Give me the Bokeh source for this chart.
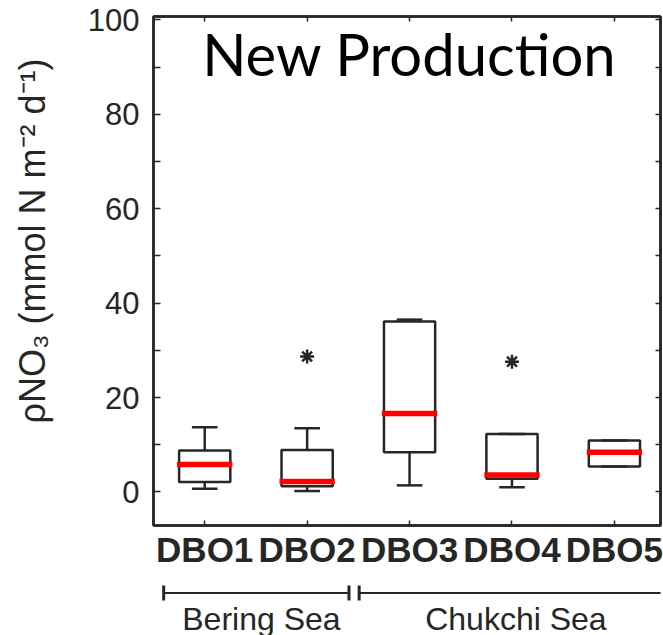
from bokeh.plotting import figure
from bokeh.models import Range1d, FixedTicker, LinearAxis, Label
from bokeh.layouts import column
from bokeh.embed import file_html
from bokeh.resources import INLINE
from bokeh.core.properties import value

# ---------------- data ----------------
stations = ["DBO1", "DBO2", "DBO3", "DBO4", "DBO5"]
q1 = [2.1, 1.2, 8.4, 2.8, 5.4]
q3 = [8.8, 8.9, 36.1, 12.3, 10.9]
medians = [5.8, 2.2, 16.6, 3.6, 8.4]
whisker_low = [0.7, 0.2, 1.4, 1.0, 5.4]
whisker_high = [13.7, 13.5, 36.5, 12.3, 10.9]
outlier_station = ["DBO2", "DBO4"]
outlier_values = [28.7, 27.6]
y_ticks = [0, 20, 40, 60, 80, 100]
y_minor_ticks = [10, 30, 50, 70, 90]
seas = ["Bering Sea", "Chukchi Sea"]
sea_first = ["DBO1", "DBO3"]
sea_last = ["DBO2", "DBO5"]
title_text = "New Production"
y_label = "\u00a0" * 6 + "\u03c1NO\u2083 (mmol N m\u207b\u00b2 d\u207b\u00b9)"

INK = "#262626"
FONT = "Liberation Sans"

pos = {s: i + 1 for i, s in enumerate(stations)}
xs = [pos[s] for s in stations]

p = figure(width=663, height=583,
           x_range=Range1d(0.5, 5.45), y_range=Range1d(-7.1, 100.7),
           x_axis_type=None, y_axis_type=None,
           output_backend="svg", toolbar_location=None,
           min_border_left=153, min_border_right=3,
           min_border_top=16, min_border_bottom=58)
p.outline_line_color = INK
p.outline_line_width = 2.5
p.outline_line_alpha = 1.0
p.background_fill_color = "white"
p.border_fill_color = "white"


def base_style(ax, tick_len):
    ax.axis_line_color = INK
    ax.axis_line_width = 2.5
    ax.major_tick_line_color = INK
    ax.minor_tick_line_color = INK
    ax.major_tick_line_width = 1.5
    ax.minor_tick_line_width = 1.5
    ax.major_tick_in = tick_len
    ax.major_tick_out = 0
    ax.minor_tick_in = tick_len
    ax.minor_tick_out = 0


# left axis
yl = LinearAxis(ticker=FixedTicker(ticks=y_ticks, minor_ticks=y_minor_ticks))
base_style(yl, 7)
yl.major_label_text_font = FONT
yl.major_label_text_font_size = "31px"
yl.major_label_text_color = INK
yl.major_label_standoff = 14
yl.axis_label = y_label
yl.axis_label_text_font = FONT
yl.axis_label_text_font_size = "36px"
yl.axis_label_text_font_style = "normal"
yl.axis_label_text_color = INK
yl.axis_label_standoff = 32
p.add_layout(yl, "left")

# right axis (ticks only, drawn as minor ticks so no labels exist)
yr = LinearAxis(ticker=FixedTicker(ticks=[], minor_ticks=sorted(y_ticks + y_minor_ticks)))
base_style(yr, 5)
yr.major_label_standoff = 0
p.add_layout(yr, "right")

# bottom axis
xb = LinearAxis(ticker=FixedTicker(ticks=xs, minor_ticks=[]))
base_style(xb, 5)
xb.major_label_overrides = {x: s for x, s in zip(xs, stations)}
xb.major_label_text_font = FONT
xb.major_label_text_font_size = "35px"
xb.major_label_text_font_style = "bold"
xb.major_label_text_color = INK
xb.major_label_standoff = 4
p.add_layout(xb, "below")

# top axis (ticks only)
xt = LinearAxis(ticker=FixedTicker(ticks=[], minor_ticks=xs))
base_style(xt, 5)
xt.major_label_standoff = 0
p.add_layout(xt, "above")

# boxes
box_half = 0.25
cap_half = 0.125
med_half = 0.27
p.quad(left=[x - box_half for x in xs], right=[x + box_half for x in xs],
       bottom=q1, top=q3, fill_color=None, line_color=INK, line_width=2.5)
p.segment(x0=xs, x1=xs, y0=q3, y1=whisker_high, line_color=INK, line_width=2.5)
p.segment(x0=xs, x1=xs, y0=q1, y1=whisker_low, line_color=INK, line_width=2.5)
p.segment(x0=[x - cap_half for x in xs], x1=[x + cap_half for x in xs],
          y0=whisker_high, y1=whisker_high, line_color=INK, line_width=2.5)
p.segment(x0=[x - cap_half for x in xs], x1=[x + cap_half for x in xs],
          y0=whisker_low, y1=whisker_low, line_color=INK, line_width=2.5)
p.segment(x0=[x - med_half for x in xs], x1=[x + med_half for x in xs],
          y0=medians, y1=medians, line_color="#ff0000", line_width=5.5)
p.scatter(x=[pos[s] for s in outlier_station], y=outlier_values, marker="asterisk",
          size=14, line_color=INK, line_width=2.5)

p.add_layout(Label(x=3.0, y=92.8, text=title_text, text_font="Lato",
                   text_font_size="58px", text_align="center",
                   text_baseline="middle", text_color="black"))

# group brackets under the axis
p2 = figure(width=663, height=52,
            x_range=Range1d(0.5, 5.48), y_range=Range1d(52, 0),
            x_axis_type=None, y_axis_type=None,
            output_backend="svg", toolbar_location=None,
            min_border_left=153, min_border_right=0,
            min_border_top=0, min_border_bottom=0)
p2.outline_line_color = None
p2.background_fill_color = "white"
p2.border_fill_color = "white"

start_pad = [0.4, 0.48]
end_pad = [0.42, 0.8]
b_start = [pos[f] - sp for f, sp in zip(sea_first, start_pad)]
b_end = [pos[l] + ep for l, ep in zip(sea_last, end_pad)]
line_y = 9.5
p2.segment(x0=b_start, x1=b_end, y0=[line_y] * len(seas), y1=[line_y] * len(seas),
           line_color=INK, line_width=2)
p2.segment(x0=b_start, x1=b_start, y0=[2] * len(seas), y1=[17] * len(seas),
           line_color=INK, line_width=3)
p2.segment(x0=b_end, x1=b_end, y0=[2] * len(seas), y1=[17] * len(seas),
           line_color=INK, line_width=3)
text_x = [(pos[f] + pos[l]) / 2 + 0.06 for f, l in zip(sea_first, sea_last)]
p2.text(x=text_x, y=[35] * len(seas), text=seas, text_font=value(FONT),
        text_font_size="32px", text_align="center", text_baseline="middle",
        text_color=INK)

layout = column(p, p2, spacing=0)
open("out.html", "w").write(file_html(layout, INLINE))
